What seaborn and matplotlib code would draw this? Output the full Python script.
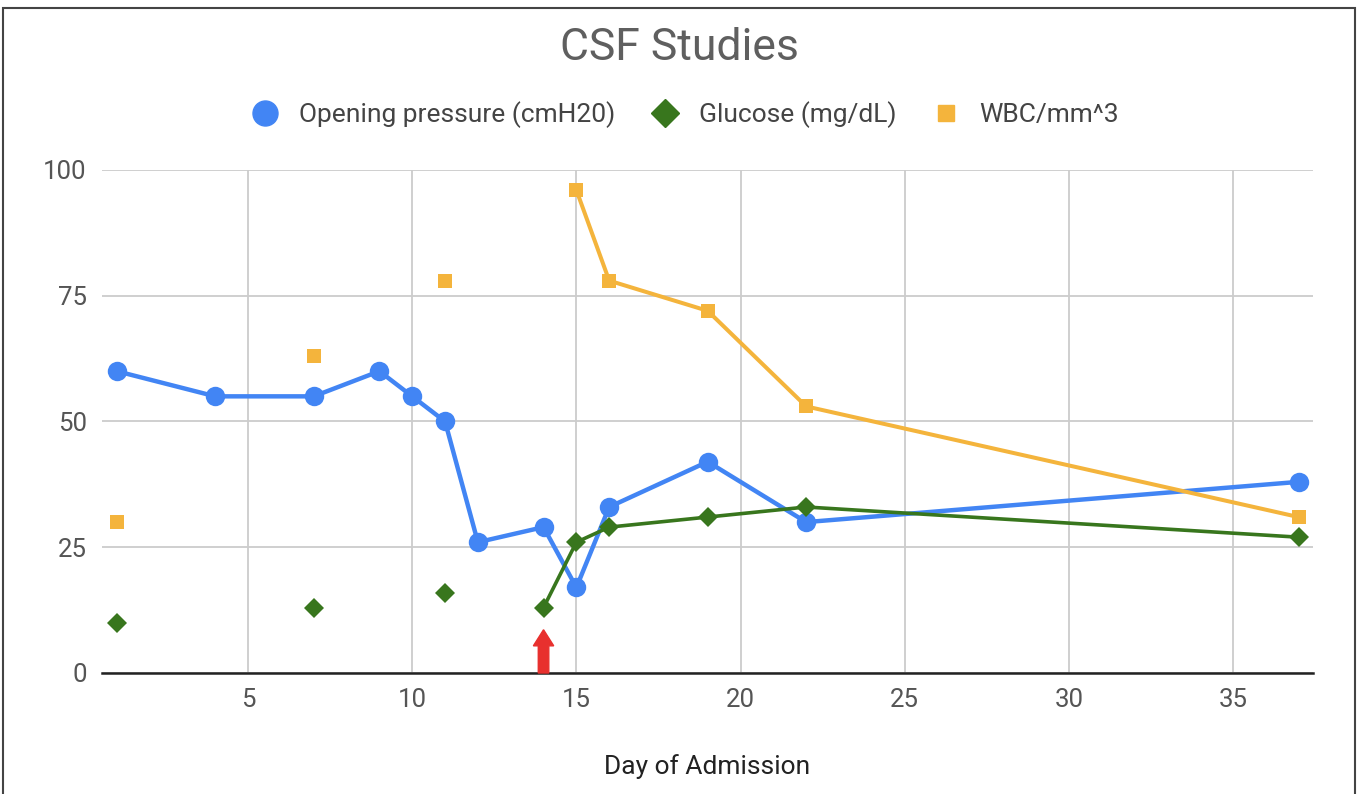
import numpy as np
import pandas as pd
import seaborn as sns
import matplotlib.pyplot as plt
from matplotlib.lines import Line2D
from matplotlib.patches import Rectangle

# dados
days = [1, 4, 7, 9, 10, 11, 12, 14, 15, 16, 19, 22, 37]
pressure = [60, 55, 55, 60, 55, 50, 26, 29, 17, 33, 42, 30, 38]
glucose = [10, np.nan, 13, np.nan, np.nan, 16, np.nan, 13, 26, 29, 31, 33, 27]
wbc = [30, np.nan, 63, np.nan, np.nan, 78, np.nan, np.nan, 96, 78, 72, 53, 31]

labels = ['Opening pressure (cmH20)', 'Glucose (mg/dL)', 'WBC/mm^3']
cores = ['#4285F4', '#38761D', '#F4B43C']
marcadores = ['o', 'D', 's']
tam = [14, 10, 10]
larg = [3.2, 2.6, 2.9]

sns.set_style('white')
plt.rcParams['font.family'] = ['Roboto', 'DejaVu Sans']

fig = plt.figure(figsize=(13.58, 7.94), dpi=100)
ax = fig.add_axes([0.0751, 0.1524, 0.8918, 0.6335])

# linhas quebram onde falta valor (como no Google Sheets)
for vals, lab, cor, mk, ms, lw in zip([pressure, glucose, wbc], labels, cores, marcadores, tam, larg):
    df = pd.DataFrame({'dia': days, 'valor': vals})
    df['seg'] = df['valor'].isna().cumsum()
    df = df.dropna()
    sns.lineplot(data=df, x='dia', y='valor', units='seg', estimator=None, ax=ax,
                 color=cor, linewidth=lw, marker=mk, markersize=ms,
                 markeredgecolor=cor, markeredgewidth=0, zorder=3)

# seta vermelha no dia 14
ax.arrow(14, 0, 0, 8.6, width=0.32, head_width=0.62, head_length=3.2,
         length_includes_head=True, color='#E8302E', clip_on=False, zorder=4)

ax.set_xlim(0.55, 37.44)
ax.set_ylim(0, 100)
ax.set_xticks([5, 10, 15, 20, 25, 30, 35])
ax.set_yticks([0, 25, 50, 75, 100])
ax.grid(True, color='#cccccc', linewidth=1.3)
ax.set_axisbelow(True)
ax.tick_params(axis='both', length=0, labelsize=18.5, labelcolor='#555555')
ax.tick_params(axis='y', pad=11)
ax.tick_params(axis='x', pad=11)
for s in ['top', 'right', 'left']:
    ax.spines[s].set_visible(False)
ax.spines['bottom'].set_color('#222222')
ax.spines['bottom'].set_linewidth(1.8)
ax.set_xlabel('Day of Admission', fontsize=19, color='#222222', va='center')
ax.xaxis.set_label_coords(0.5, (673 - 767) / 503)
ax.set_ylabel('')

fig.text(0.5, 1 - 48 / 794, 'CSF Studies', ha='center', va='center',
         fontsize=32, color='#5f5f5f')

handles = [Line2D([], [], linestyle='none', marker=m, color=c, markersize=s)
           for m, c, s in zip(marcadores, cores, [18, 14, 12])]
fig.legend(handles, labels, loc='center', bbox_to_anchor=(0.5, 1 - 115 / 794),
           ncol=3, frameon=False, fontsize=19, labelcolor='#444444',
           handlelength=2.0, handletextpad=0.27, columnspacing=0.9)

# moldura da figura
fig.patches.append(Rectangle((3 / 1358, -0.01), 1352 / 1358, 1.0 - 8 / 794 + 0.01,
                             transform=fig.transFigure, fill=False,
                             edgecolor='#444444', linewidth=1.5))

fig.savefig('out.png', dpi=100)
